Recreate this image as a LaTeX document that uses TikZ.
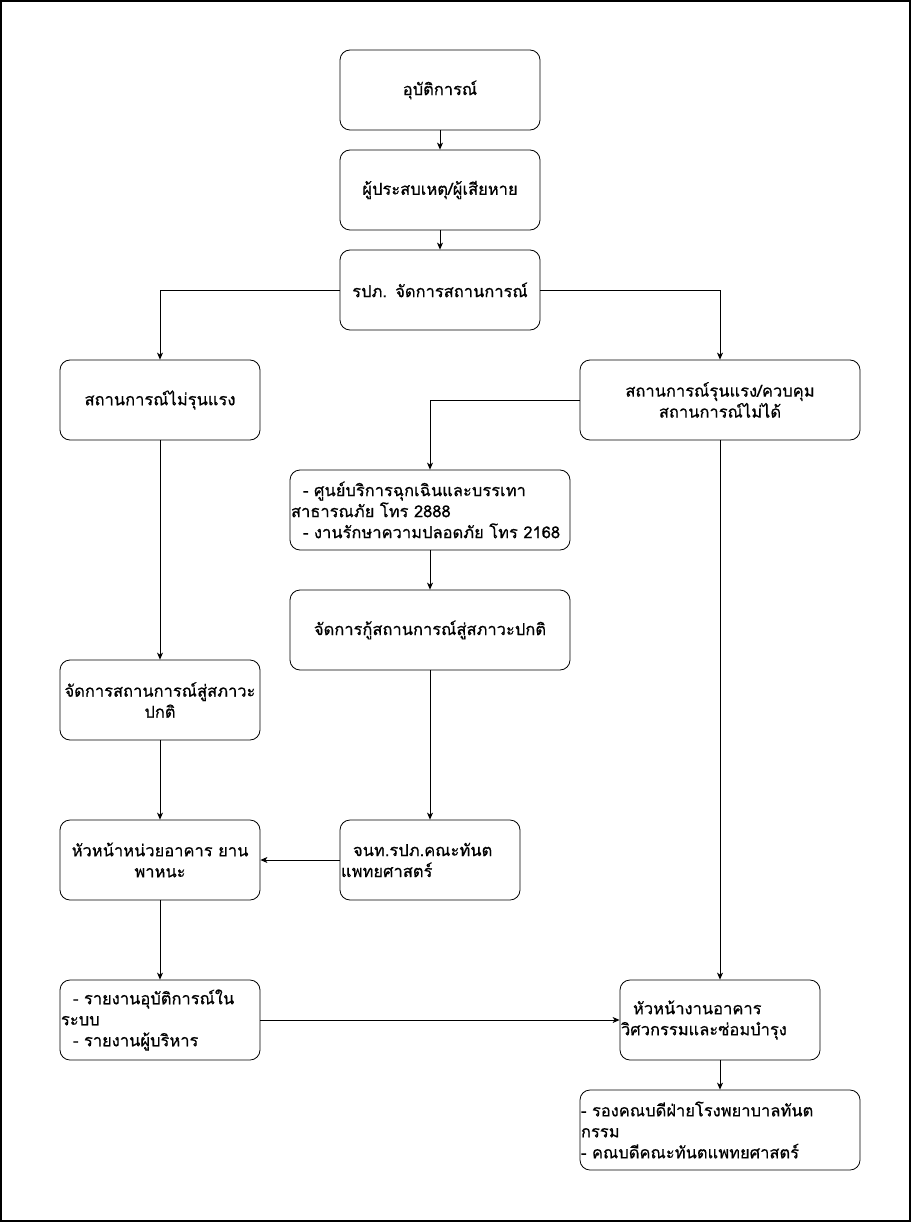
\documentclass[tikz,border=0pt]{standalone}
\usepackage{fontspec}
\newfontfamily\thaifont[Script=Thai,FakeBold=0.6]{Loma}
\usetikzlibrary{arrows.meta}
\begin{document}
\begin{tikzpicture}[x=1pt,y=-1pt,
  bx/.style={draw, rounded corners=10pt, line width=0.8pt, inner xsep=1pt, inner ysep=2pt,
    minimum height=80pt, font=\thaifont\fontsize{16.5}{21}\selectfont},
  w200/.style={text width=198pt},
  w280/.style={text width=278pt},
  w180/.style={text width=178pt},
  arr/.style={line width=0.8pt, -{Stealth[length=7pt,width=6pt,inset=2pt]}}]
\useasboundingbox (0,0) rectangle (911,1222);
\draw[line width=1.5pt] (1,1) rectangle (910,1221);
\newcommand{\ind}{\hspace*{12pt}}

\node[bx,w200,align=center] (n1) at (440,90) {อุบัติการณ์};
\node[bx,w200,align=center] (n2) at (440,190) {ผู้ประสบเหตุ/ผู้เสียหาย};
\node[bx,w200,align=center] (n3) at (440,290) {รปภ. จัดการสถานการณ์};
\node[bx,w200,align=center] (n4) at (160,400) {สถานการณ์ไม่รุนแรง};
\node[bx,w280,align=center] (n5) at (720,400) {สถานการณ์รุนแรง/ควบคุม\\สถานการณ์ไม่ได้};
\node[bx,w280,align=left] (n6) at (430,510) {\ind-~ศูนย์บริการฉุกเฉินและบรรเทา\\สาธารณภัย โทร 2888\\\ind-~งานรักษาความปลอดภัย โทร 2168};
\node[bx,w280,align=center] (n7) at (430,630) {จัดการกู้สถานการณ์สู่สภาวะปกติ};
\node[bx,w200,align=center] (n8) at (160,700) {จัดการสถานการณ์สู่สภาวะ\\ปกติ};
\node[bx,w200,align=center] (n9) at (160,860) {หัวหน้าหน่วยอาคาร ยาน\\พาหนะ};
\node[bx,w180,align=left] (n10) at (430,860) {\ind จนท.รปภ.คณะทันต\\แพทยศาสตร์};
\node[bx,w200,align=left] (n11) at (160,1020) {\ind-~รายงานอุบัติการณ์ใน\\ระบบ\\\ind-~รายงานผู้บริหาร};
\node[bx,w200,align=left] (n12) at (720,1020) {\ind หัวหน้างานอาคาร\\วิศวกรรมและซ่อมบำรุง};
\node[bx,w280,align=left] (n13) at (720,1130) {-~รองคณบดีฝ่ายโรงพยาบาลทันต\\กรรม\\-~คณบดีคณะทันตแพทยศาสตร์};

\draw[arr] (n1) -- (n2);
\draw[arr] (n2) -- (n3);
\draw[arr] (n3.west) -| (n4.north);
\draw[arr] (n3.east) -| (n5.north);
\draw[arr] (n5.west) -| (n6.north);
\draw[arr] (n6) -- (n7);
\draw[arr] (n7) -- (n10);
\draw[arr] (n4) -- (n8);
\draw[arr] (n8) -- (n9);
\draw[arr] (n10) -- (n9);
\draw[arr] (n9) -- (n11);
\draw[arr] (n11) -- (n12);
\draw[arr] (n5) -- (n12);
\draw[arr] (n12) -- (n13);
\end{tikzpicture}
\end{document}
